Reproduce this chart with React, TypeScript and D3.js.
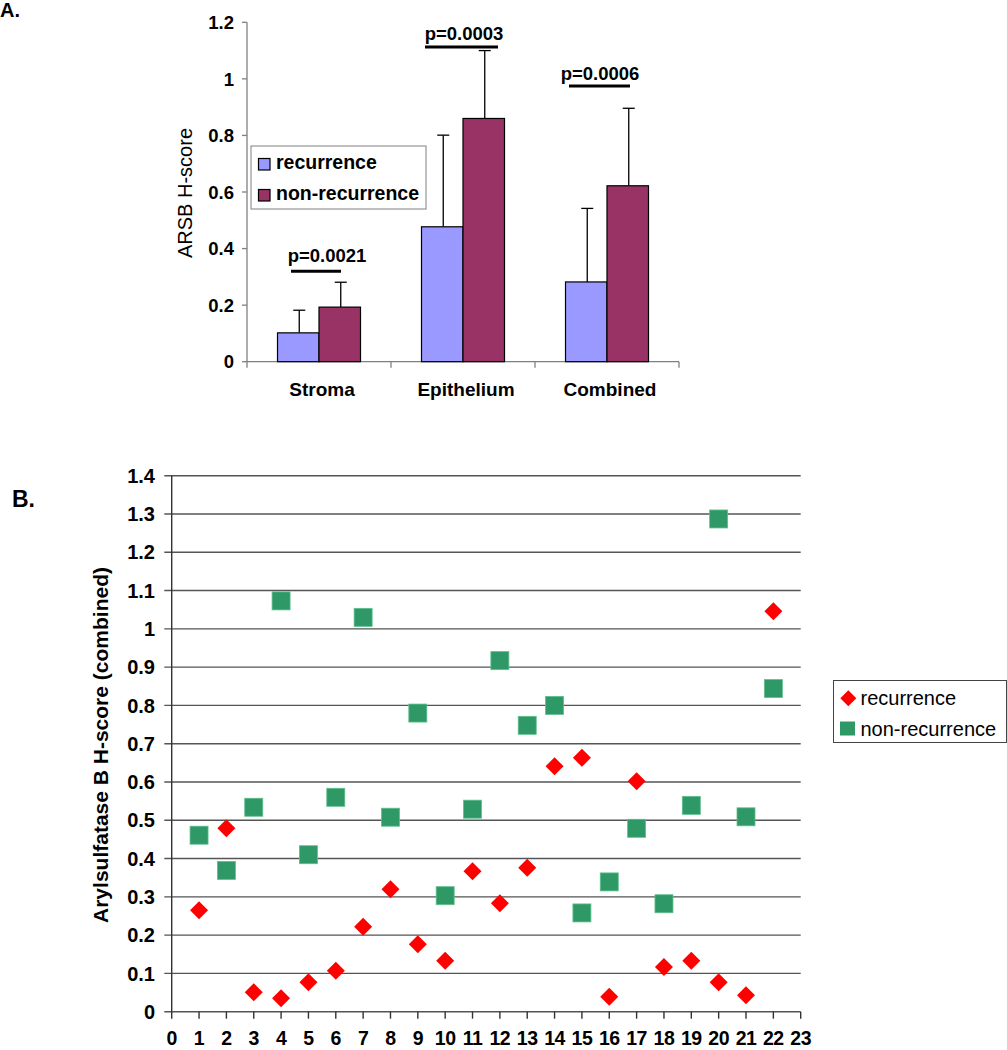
import React from "react";
import * as d3 from "d3";

// ---------- Panel A data ----------
const categories = ["Stroma", "Epithelium", "Combined"];
const seriesA = ["recurrence", "non-recurrence"];
const recMeans = [0.102, 0.477, 0.282];
const recErr = [0.08, 0.324, 0.26];
const nonRecMeans = [0.193, 0.86, 0.622];
const nonRecErr = [0.088, 0.24, 0.274];
const yTicksA = [0, 0.2, 0.4, 0.6, 0.8, 1, 1.2];
const pLabels = ["p=0.0021", "p=0.0003", "p=0.0006"];
const pLineLevel = [0.32, 1.113, 0.975];

// ---------- Panel B data ----------
const patients = d3.range(1, 23);
const recurrenceB = [0.265, 0.479, 0.051, 0.035, 0.077, 0.107, 0.222, 0.32, 0.176, 0.133, 0.367, 0.283, 0.376, 0.641, 0.663, 0.039, 0.602, 0.117, 0.133, 0.077, 0.043, 1.046];
const nonRecurrenceB = [0.461, 0.369, 0.534, 1.073, 0.41, 0.56, 1.03, 0.508, 0.78, 0.303, 0.529, 0.917, 0.748, 0.8, 0.258, 0.339, 0.479, 0.282, 0.539, 1.287, 0.509, 0.844];
const xTicksB = d3.range(0, 24);
const yTicksB = d3.range(0, 15).map((d) => d / 10);

const COL_REC_A = "#9999ff";
const COL_NON_A = "#993366";
const COL_REC_B = "#ff0000";
const COL_NON_B = "#2e9966";

export default function App() {
  // Panel A scales
  const yA = d3.scaleLinear().domain([0, 1.2]).range([361.7, 22.3]);
  const xA = d3.scaleBand().domain(categories).range([247, 679]);
  const groupW = 83;
  const xSub = d3.scaleBand().domain(seriesA).range([0, groupW]);
  const groupStart = (c: string) => (xA(c) as number) + (xA.bandwidth() - groupW) / 2;
  const barsA = [
    { s: "recurrence", vals: recMeans, errs: recErr, col: COL_REC_A },
    { s: "non-recurrence", vals: nonRecMeans, errs: nonRecErr, col: COL_NON_A },
  ];
  const pLineOffsets = [
    [-28, 22, 7],
    [-38, 35, 0],
    [-38, 23, -8],
  ];
  const pLabelDy = [-9, -7, -6];

  // Panel B scales
  const xB = d3.scaleLinear().domain([0, 23]).range([171.7, 800.7]);
  const yB = d3.scaleLinear().domain([0, 1.4]).range([1011.7, 475.7]);

  const fontA = "Arial, 'Liberation Sans', sans-serif";

  const diamond = (cx: number, cy: number, r: number) =>
    `M${cx},${cy - r}L${cx + r},${cy}L${cx},${cy + r}L${cx - r},${cy}Z`;

  return (
    <svg
      width={1007}
      height={1050}
      style={{ position: "absolute", left: 0, top: 0, background: "#fff" }}
      fontFamily={fontA}
    >
      <rect x={0} y={0} width={1007} height={1050} fill="#fff" />
      {/* ================= Panel A ================= */}
      <text x={0} y={17} fontSize={20} fontWeight="bold">A.</text>

      {/* y axis */}
      <line x1={247} x2={247} y1={yA(1.2)} y2={yA(0)} stroke="#808080" strokeWidth={1.3} />
      {yTicksA.map((t) => (
        <g key={t}>
          <line x1={242} x2={247} y1={yA(t)} y2={yA(t)} stroke="#808080" strokeWidth={1.3} />
          <text
            x={234}
            y={yA(t)}
            dy="0.36em"
            textAnchor="end"
            fontSize={18.5}
            fontWeight="bold"
          >
            {String(t)}
          </text>
        </g>
      ))}
      <text
        transform={`translate(192,193) rotate(-90)`}
        textAnchor="middle"
        fontSize={20}
      >
        ARSB H-score
      </text>

      {/* x axis */}
      <line x1={247} x2={679} y1={yA(0)} y2={yA(0)} stroke="#808080" strokeWidth={1.3} />
      {[...categories.map((c) => xA(c) as number), 679].map((x, i) => (
        <line key={i} x1={x} x2={x} y1={yA(0)} y2={yA(0) + 6} stroke="#808080" strokeWidth={1.3} />
      ))}
      {categories.map((c) => (
        <text
          key={c}
          x={(xA(c) as number) + xA.bandwidth() / 2 + 3}
          y={396}
          textAnchor="middle"
          fontSize={19}
          fontWeight="bold"
        >
          {c}
        </text>
      ))}

      {/* bars + error bars */}
      {barsA.map((b) =>
        categories.map((c, i) => {
          const x0 = groupStart(c) + (xSub(b.s) as number);
          const w = xSub.bandwidth();
          const top = yA(b.vals[i]);
          const errTop = yA(b.vals[i] + b.errs[i]);
          const cx = x0 + w / 2 + 1;
          return (
            <g key={b.s + c}>
              <line x1={cx} x2={cx} y1={top} y2={errTop} stroke="#000" strokeWidth={1.3} />
              <line x1={cx - 6} x2={cx + 6} y1={errTop} y2={errTop} stroke="#000" strokeWidth={1.3} />
              <rect x={x0} y={top} width={w} height={yA(0) - top} fill={b.col} stroke="#000" strokeWidth={1.2} />
            </g>
          );
        })
      )}

      {/* p-values */}
      {categories.map((c, i) => {
        const cc = (xA(c) as number) + xA.bandwidth() / 2;
        const ly = yA(pLineLevel[i]);
        const [a, bb, lo] = pLineOffsets[i];
        return (
          <g key={"p" + c}>
            <line x1={cc + a} x2={cc + bb} y1={ly} y2={ly} stroke="#000" strokeWidth={3} />
            <text
              x={cc + lo + 1}
              y={ly + pLabelDy[i]}
              textAnchor="middle"
              fontSize={18.5}
              fontWeight="bold"
            >
              {pLabels[i]}
            </text>
          </g>
        );
      })}

      {/* legend A */}
      <rect x={251} y={146} width={175} height={63} fill="#fff" stroke="#808080" strokeWidth={1} />
      {barsA.map((b, i) => (
        <g key={"lgA" + b.s}>
          <rect x={258.5} y={158.5 + i * 31} width={11.5} height={11.5} fill={b.col} stroke="#000" strokeWidth={1.2} />
          <text x={276} y={169 + i * 31.3} fontSize={19.5} fontWeight="bold">
            {b.s}
          </text>
        </g>
      ))}

      {/* ================= Panel B ================= */}
      <text x={12} y={507} fontSize={23} fontWeight="bold">B.</text>

      {yTicksB.map((t) => (
        <g key={"gb" + t}>
          <line x1={164.3} x2={800.7} y1={yB(t)} y2={yB(t)} stroke="#555" strokeWidth={1.4} />
          <text
            x={155}
            y={yB(t)}
            dy="0.36em"
            textAnchor="end"
            fontSize={20}
            fontWeight="bold"
          >
            {String(t)}
          </text>
        </g>
      ))}
      <line x1={171.7} x2={171.7} y1={yB(1.4)} y2={yB(0)} stroke="#333" strokeWidth={1.4} />
      {xTicksB.map((t) => (
        <g key={"xb" + t}>
          <line x1={xB(t)} x2={xB(t)} y1={yB(0)} y2={yB(0) + 7} stroke="#333" strokeWidth={1.4} />
          <text x={xB(t)} y={1045} textAnchor="middle" fontSize={19.5} fontWeight="bold" letterSpacing={-0.5}>
            {String(t)}
          </text>
        </g>
      ))}
      <text
        transform={`translate(108,745) rotate(-90)`}
        textAnchor="middle"
        fontSize={21}
        fontWeight="bold"
      >
        Arylsulfatase B H-score (combined)
      </text>

      {/* markers */}
      {patients.map((p, i) => (
        <rect
          key={"nr" + p}
          x={xB(p) - 9}
          y={yB(nonRecurrenceB[i]) - 9}
          width={18}
          height={18}
          fill={COL_NON_B}
          stroke="#5fbf8c"
          strokeWidth={0.8}
        />
      ))}
      {patients.map((p, i) => (
        <path key={"r" + p} d={diamond(xB(p), yB(recurrenceB[i]), 9)} fill={COL_REC_B} />
      ))}

      {/* legend B */}
      <rect x={833.5} y={680.5} width={173} height={62} fill="#fff" stroke="#444" strokeWidth={1} />
      <path d={diamond(848.3, 698.3, 8)} fill={COL_REC_B} />
      <text x={860.5} y={705} fontSize={20}>recurrence</text>
      <rect x={840} y={721.5} width={15} height={14} fill={COL_NON_B} />
      <text x={860.5} y={735.5} fontSize={20}>non-recurrence</text>
    </svg>
  );
}
